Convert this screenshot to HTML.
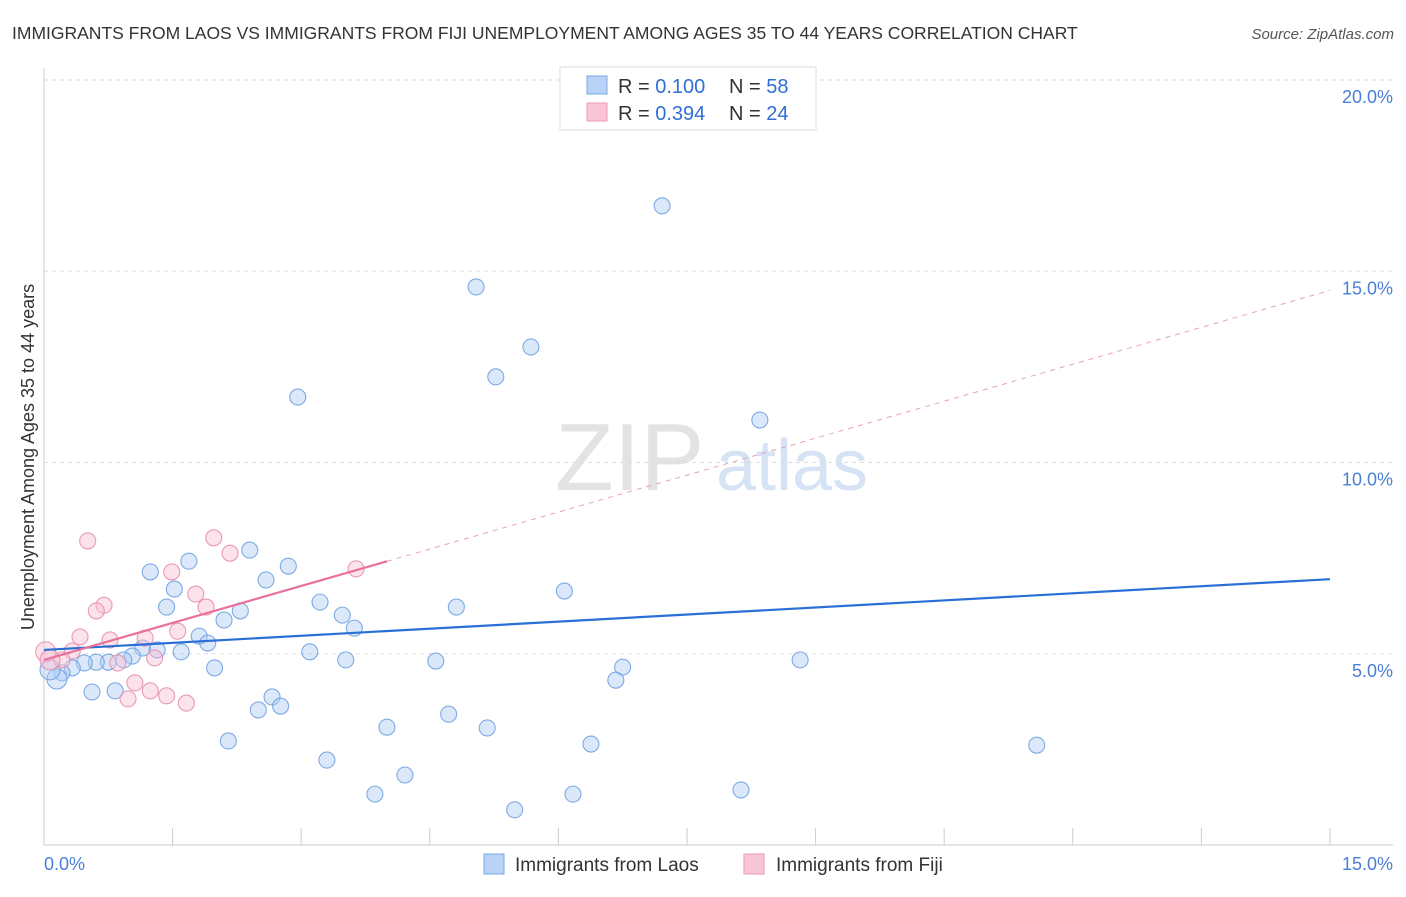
<!DOCTYPE html>
<html><head><meta charset="utf-8"><style>
body{margin:0;background:#fff;font-family:"Liberation Sans",sans-serif}
svg text{font-family:"Liberation Sans",sans-serif}
</style></head><body>
<svg width="1406" height="892" xmlns="http://www.w3.org/2000/svg">
<text x="12" y="39" font-size="17.5" fill="#333">IMMIGRANTS FROM LAOS VS IMMIGRANTS FROM FIJI UNEMPLOYMENT AMONG AGES 35 TO 44 YEARS CORRELATION CHART</text>
<text x="1394" y="39" font-size="15" fill="#555" font-style="italic" text-anchor="end">Source: ZipAtlas.com</text>
<g>
<text x="555" y="490" font-size="96" fill="#e3e3e3" font-family="Liberation Serif,serif">ZIP</text>
<text x="716" y="490" font-size="72" fill="#d6e3f5">atlas</text>
</g>
<g id="grid"></g>
<g id="axes"></g>
<g id="marks"></g>
<g>
<rect x="560" y="67" width="256" height="63" fill="#fff" stroke="#ddd"/>
<rect x="587" y="76" width="20" height="18" fill="#b8d3f5" stroke="#7aa8e6"/>
<rect x="587" y="103" width="20" height="18" fill="#f9c6d6" stroke="#ec98b6"/>
<text x="618" y="93" font-size="20" fill="#333">R = <tspan fill="#2f6fd6">0.100</tspan></text>
<text x="729" y="93" font-size="20" fill="#333">N = <tspan fill="#2f6fd6">58</tspan></text>
<text x="618" y="120" font-size="20" fill="#333">R = <tspan fill="#2f6fd6">0.394</tspan></text>
<text x="729" y="120" font-size="20" fill="#333">N = <tspan fill="#2f6fd6">24</tspan></text>
</g>
<g>
<rect x="484" y="854" width="20" height="20" fill="#b8d3f5" stroke="#7aa8e6"/>
<text x="515" y="871" font-size="19" fill="#333">Immigrants from Laos</text>
<rect x="744" y="854" width="20" height="20" fill="#f9c6d6" stroke="#ec98b6"/>
<text x="776" y="871" font-size="19" fill="#333">Immigrants from Fiji</text>
</g>
<text transform="translate(34,457) rotate(-90)" font-size="18" fill="#333" text-anchor="middle">Unemployment Among Ages 35 to 44 years</text>
</svg>
<script>
const laosX=[7.21,5.04,5.68,5.27,2.96,8.35,2.40,1.69,1.24,2.85,2.59,1.52,6.07,1.43,2.29,3.22,4.81,2.10,3.48,3.62,1.81,1.91,1.15,1.32,1.60,1.03,3.10,3.52,4.57,8.82,0.75,0.61,0.93,0.47,0.33,0.21,1.99,6.75,0.15,6.67,0.56,0.83,2.66,2.50,2.76,4.72,4.00,5.17,2.15,6.38,11.58,3.30,4.21,3.86,6.17,5.49,8.13,0.07];
const laosY=[16.71,14.59,13.02,12.24,11.71,11.11,7.71,7.42,7.14,7.29,6.93,6.69,6.64,6.22,6.12,6.35,6.22,5.88,6.01,5.67,5.46,5.28,5.15,5.10,5.05,4.94,5.05,4.84,4.81,4.84,4.78,4.78,4.84,4.76,4.63,4.50,4.63,4.65,4.34,4.31,4.00,4.03,3.87,3.53,3.63,3.42,3.08,3.06,2.72,2.64,2.61,2.22,1.83,1.33,1.33,0.92,1.44,4.58];
const fijiX=[0.51,1.98,2.17,3.64,1.49,1.77,0.70,0.61,1.89,1.56,0.42,0.77,1.18,1.29,0.33,0.02,0.21,0.86,1.06,1.24,1.43,0.98,1.66,0.07];
const fijiY=[7.95,8.03,7.63,7.22,7.14,6.56,6.27,6.12,6.22,5.59,5.44,5.36,5.41,4.89,5.07,5.05,4.84,4.76,4.24,4.03,3.90,3.82,3.71,4.84];
const laosTrend=[5.1,6.95];
const fijiTrend=[4.84,14.5];
const fijiSolidEnd=4.0;
const xTicks=[0,1.5,3,4.5,6,7.5,9,10.5,12,13.5,15];
const yTicks=[5,10,15,20];
const yTickLabels=["5.0%","10.0%","15.0%","20.0%"];
const xEndLabels=["0.0%","15.0%"];
const NS="http://www.w3.org/2000/svg";
const X=v=>44+v*85.73, Y=v=>845-v*38.25;
function mk(p,tag,a){const e=document.createElementNS(NS,tag);for(const k in a)e.setAttribute(k,a[k]);p.appendChild(e);return e;}
const grid=document.getElementById('grid'),axes=document.getElementById('axes'),marks=document.getElementById('marks');
yTicks.forEach((t,i)=>{
 const l=mk(grid,'line',{x1:44,x2:1393,y1:Y(t),y2:Y(t),stroke:'#ddd','stroke-dasharray':'4,4'});
 
 
 const tx=mk(axes,'text',{x:1393,y:Y(t)+23,'font-size':18,fill:'#4a7fd6','text-anchor':'end'});tx.textContent=yTickLabels[i];
 
 
});
let a=mk(axes,'line',{x1:44,x2:44,y1:68,y2:845,stroke:'#ccc'});


a=mk(axes,'line',{x1:44,x2:1393,y1:845,y2:845,stroke:'#ccc'});


xTicks.forEach(t=>{const l=mk(axes,'line',{x1:X(t),x2:X(t),y1:828,y2:845,stroke:'#ccc'});
 
 });
let t1=mk(axes,'text',{x:44,y:870,'font-size':18,fill:'#4a7fd6'});t1.textContent=xEndLabels[0];


t1=mk(axes,'text',{x:1393,y:870,'font-size':18,fill:'#4a7fd6','text-anchor':'end'});t1.textContent=xEndLabels[1];


function pts(xs,ys,fill,stroke,name){xs.forEach((x,i)=>{const c=mk(marks,'circle',{cx:X(x),cy:Y(ys[i]),r:(x<0.2?10:8),fill:fill,'fill-opacity':0.45,stroke:stroke,'stroke-width':1.1,'stroke-opacity':0.85});
 
 });}
pts(laosX,laosY,'#b0cdf2','#6a9ee0','point-laos');
pts(fijiX,fijiY,'#f8bfd2','#e58aac','point-fiji');
const fy=v=>fijiTrend[0]+(fijiTrend[1]-fijiTrend[0])*v/15;
let l=mk(marks,'line',{x1:X(0),y1:Y(laosTrend[0]),x2:X(15),y2:Y(laosTrend[1]),stroke:'#2a6fd6','stroke-width':2.2});


l=mk(marks,'line',{x1:X(0),y1:Y(fy(0)),x2:X(fijiSolidEnd),y2:Y(fy(fijiSolidEnd)),stroke:'#e8709a','stroke-width':2.2});


l=mk(marks,'line',{x1:X(fijiSolidEnd),y1:Y(fy(fijiSolidEnd)),x2:X(15),y2:Y(fy(15)),stroke:'#e8a0b8','stroke-width':1,'stroke-dasharray':'5,5'});


</script>
</body></html>
